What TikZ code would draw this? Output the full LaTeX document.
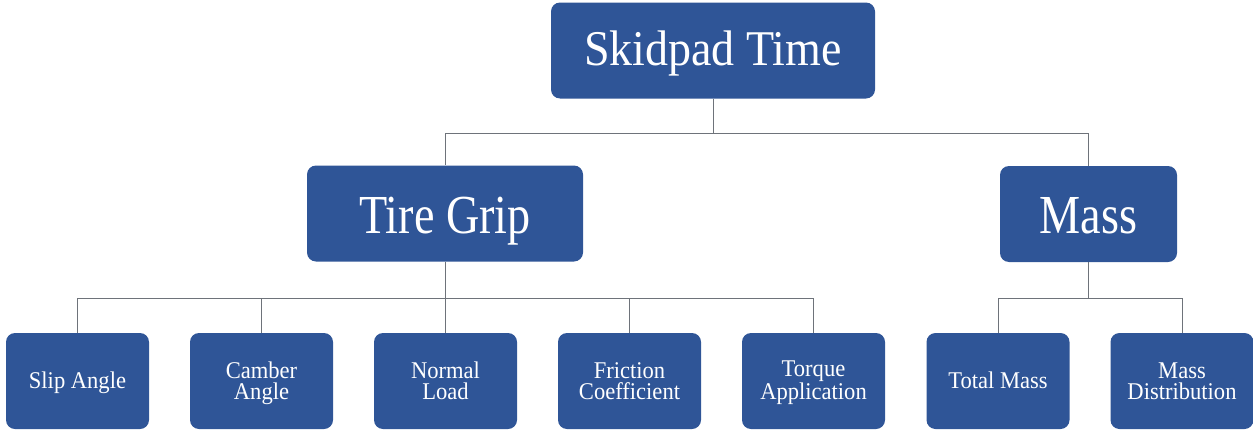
\documentclass[tikz,border=0pt]{standalone}
\usepackage{fontspec}
\setmainfont{Liberation Serif}
\newfontfamily\topfont[FakeStretch=0.92]{Liberation Serif}
\newfontfamily\midfont[FakeStretch=0.84]{Liberation Serif}
\newfontfamily\lowfont[FakeStretch=0.94]{Liberation Serif}
\definecolor{boxblue}{HTML}{2F5597}
\definecolor{linegray}{HTML}{6E737A}
\begin{document}
\begin{tikzpicture}[x=1pt,y=-1pt,
  box/.style={draw=none,fill=boxblue,rounded corners=9pt,text=white,align=center,inner sep=0pt,minimum height=96pt},
  topbox/.style={box,font=\topfont\fontsize{50}{50}\selectfont,text height=33pt,text depth=4pt},
  midbox/.style={box,font=\midfont\fontsize{55}{55}\selectfont,text height=40pt,text depth=1pt},
  small/.style={box,minimum width=143pt,font=\lowfont\fontsize{24}{21.5}\selectfont,text height=16pt,text depth=2pt},
  smalltwo/.style={box,minimum width=143pt,font=\lowfont\fontsize{24}{21.5}\selectfont,text height=38pt,text depth=1pt},
  conn/.style={draw=linegray,line width=1pt}]
\useasboundingbox (0,0) rectangle (1253,431);
\node[topbox,minimum width=324pt] (sk) at (713,50.5) {Skidpad Time};
\node[midbox,minimum width=276pt] (tg) at (445,213.5) {Tire Grip};
\node[midbox,minimum width=177pt] (ms) at (1088.5,214) {Mass};
\node[small] (sa) at (77.5,381) {Slip Angle};
\node[smalltwo] (ca) at (261.5,381) {Camber\\Angle};
\node[smalltwo] (nl) at (445.5,381) {Normal\\Load};
\node[smalltwo] (fc) at (629.5,381) {Friction\\Coefficient};
\node[smalltwo] (ta) at (813.5,381) {Torque\\Application};
\node[small] (tm) at (998,381) {Total Mass};
\node[smalltwo] (md) at (1182,381) {Mass\\Distribution};
\coordinate (j1) at (713,133);
\coordinate (j2) at (445,298);
\coordinate (j3) at (1088.5,298);
\draw[conn] (sk.south) -- (j1);
\draw[conn] (j1) -| (tg.north);
\draw[conn] (j1) -| (ms.north);
\draw[conn] (tg.south) -- (j2);
\foreach \n in {sa,ca,nl,fc,ta} \draw[conn] (j2) -| (\n.north);
\draw[conn] (ms.south) -- (j3);
\foreach \n in {tm,md} \draw[conn] (j3) -| (\n.north);
\end{tikzpicture}
\end{document}
